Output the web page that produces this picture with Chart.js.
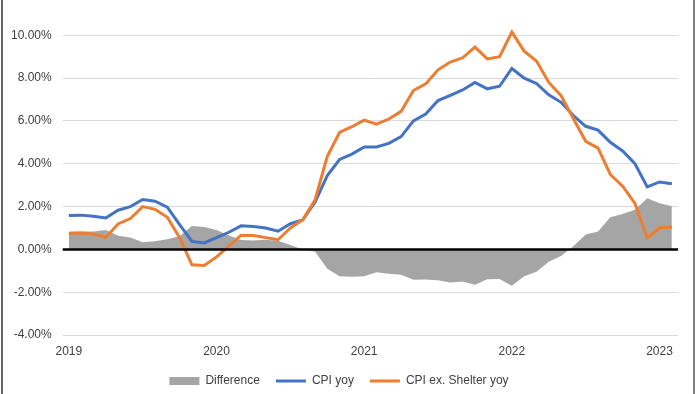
<!DOCTYPE html>
<html>
<head>
<meta charset="utf-8">
<script src="https://cdn.jsdelivr.net/npm/chart.js@4.4.1/dist/chart.umd.min.js"></script>
<style>
  html, body { margin: 0; padding: 0; background: #fff; }
  #wrap { position: relative; width: 700px; height: 394px; }
  #wrap::before { content: ""; position: absolute; left: 1px; top: 0; bottom: 0; width: 2px; background: #666; }
  #wrap::after { content: ""; position: absolute; left: 693px; top: 0; bottom: 0; width: 2px; background: #808080; }
  canvas { display: block; }
</style>
</head>
<body>
<div id="wrap"><canvas id="chart" width="700" height="394"></canvas></div>
<script>
// Monthly, Jan 2019 - Feb 2023
const months = [
  "2019-01","2019-02","2019-03","2019-04","2019-05","2019-06","2019-07","2019-08","2019-09","2019-10","2019-11","2019-12",
  "2020-01","2020-02","2020-03","2020-04","2020-05","2020-06","2020-07","2020-08","2020-09","2020-10","2020-11","2020-12",
  "2021-01","2021-02","2021-03","2021-04","2021-05","2021-06","2021-07","2021-08","2021-09","2021-10","2021-11","2021-12",
  "2022-01","2022-02","2022-03","2022-04","2022-05","2022-06","2022-07","2022-08","2022-09","2022-10","2022-11","2022-12",
  "2023-01","2023-02"
];

// values in %
const cpiYoy = [
  1.58, 1.60, 1.55, 1.47, 1.83, 2.00, 2.33, 2.25, 1.97, 1.16, 0.37, 0.30,
  0.55, 0.80, 1.10, 1.07, 1.00, 0.85, 1.20, 1.37, 2.20, 3.45, 4.20, 4.45,
  4.78, 4.78, 4.95, 5.27, 6.00, 6.32, 6.95, 7.20, 7.45, 7.80, 7.50, 7.62,
  8.45, 8.00, 7.75, 7.22, 6.87, 6.25, 5.75, 5.57, 5.00, 4.60, 4.00, 2.92,
  3.15, 3.07
];

const cpiExShelter = [
  0.74, 0.77, 0.72, 0.56, 1.19, 1.44, 2.00, 1.87, 1.50, 0.55, -0.72, -0.75,
  -0.35, 0.15, 0.66, 0.65, 0.55, 0.45, 1.00, 1.38, 2.30, 4.35, 5.46, 5.73,
  6.04, 5.85, 6.09, 6.45, 7.42, 7.73, 8.39, 8.75, 8.95, 9.45, 8.90, 9.00,
  10.15, 9.26, 8.80, 7.80, 7.18, 6.10, 5.05, 4.73, 3.50, 2.95, 2.15, 0.53,
  1.00, 1.05
];

const difference = [
  0.84, 0.83, 0.83, 0.91, 0.64, 0.56, 0.33, 0.38, 0.47, 0.61, 1.09, 1.05,
  0.90, 0.65, 0.44, 0.42, 0.45, 0.40, 0.20, -0.01, -0.10, -0.90, -1.26, -1.28,
  -1.26, -1.07, -1.14, -1.18, -1.42, -1.41, -1.44, -1.55, -1.50, -1.65, -1.40, -1.38,
  -1.70, -1.26, -1.05, -0.58, -0.31, 0.15, 0.70, 0.84, 1.50, 1.65, 1.85, 2.39,
  2.15, 2.02
];

const yTicks = { min: -4, max: 10.8, step: 2 };

const zeroLine = {
  id: "zeroLine",
  afterDatasetsDraw(chart) {
    const { ctx, chartArea, scales } = chart;
    const y = scales.y.getPixelForValue(0);
    ctx.save();
    ctx.strokeStyle = "#000";
    ctx.lineWidth = 2.5;
    ctx.beginPath();
    ctx.moveTo(chartArea.left, y);
    ctx.lineTo(chartArea.right, y);
    ctx.stroke();
    ctx.restore();
  }
};

Chart.defaults.font.family = "'Liberation Sans', Arial, sans-serif";
Chart.defaults.font.size = 12;
Chart.defaults.color = "#595959";

const ctx = document.getElementById("chart").getContext("2d");
new Chart(ctx, {
  type: "line",
  data: {
    labels: months,
    datasets: [
      {
        label: "Difference",
        data: difference,
        fill: "origin",
        backgroundColor: "#a5a5a5",
        borderColor: "#a5a5a5",
        borderWidth: 0,
        pointRadius: 0,
        pointStyle: "rect",
        order: 3
      },
      {
        label: "CPI yoy",
        data: cpiYoy,
        borderColor: "#4472c4",
        backgroundColor: "#4472c4",
        borderWidth: 3,
        pointRadius: 0,
        pointStyle: "line",
        order: 2
      },
      {
        label: "CPI ex. Shelter yoy",
        data: cpiExShelter,
        borderColor: "#ed7d31",
        backgroundColor: "#ed7d31",
        borderWidth: 3,
        pointRadius: 0,
        pointStyle: "line",
        order: 1
      }
    ]
  },
  options: {
    responsive: false,
    animation: false,
    layout: { padding: { left: 0, right: 22, top: 0, bottom: -3 } },
    plugins: {
      legend: {
        position: "bottom",
        labels: {
          usePointStyle: true,
          pointStyleWidth: 30,
          boxHeight: 8,
          padding: 16,
          color: "#404040",
          sort: (a, b) => a.datasetIndex - b.datasetIndex
        }
      },
      tooltip: { enabled: false }
    },
    scales: {
      x: {
        offset: true,
        grid: { display: false, drawTicks: false },
        border: { display: false },
        afterFit: (scale) => { scale.height = 24; },
        ticks: {
          autoSkip: false,
          maxRotation: 0,
          padding: 9,
          color: "#404040",
          callback: (v, i) => months[i].endsWith("-01") ? months[i].slice(0, 4) : ""
        }
      },
      y: {
        min: yTicks.min,
        max: yTicks.max,
        border: { display: false },
        grid: { color: "#d9d9d9", drawTicks: false },
        ticks: {
          stepSize: yTicks.step,
          includeBounds: false,
          padding: 11,
          color: "#404040",
          callback: (v) => v.toFixed(2) + "%"
        }
      }
    }
  },
  plugins: [zeroLine]
});
</script>
</body>
</html>
